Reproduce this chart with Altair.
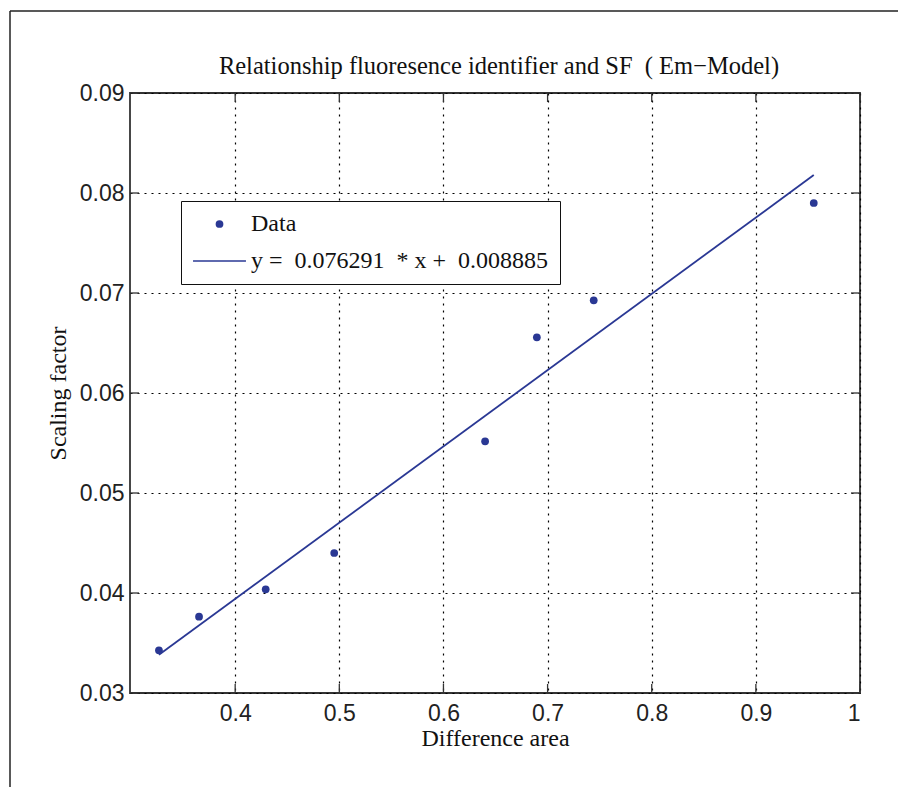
import altair as alt
import pandas as pd

# ---- data ----
diff_area = [0.3268, 0.3653, 0.4293, 0.4951, 0.6400, 0.6897, 0.7443, 0.9556]
scaling = [0.03427, 0.03763, 0.04037, 0.0440, 0.05517, 0.06557, 0.06927, 0.0790]
fit_x = [0.3268, 0.9556]
fit_y = [0.03382, 0.08179]
x_ticks = [0.4, 0.5, 0.6, 0.7, 0.8, 0.9, 1.0]
y_ticks = [0.03, 0.04, 0.05, 0.06, 0.07, 0.08, 0.09]
series_names = ["Data", "y =\u00a0 0.076291\u00a0 * x +\u00a0 0.008885"]

BLUE = "#2a3894"
SERIF = "Liberation Serif"
SANS = "Liberation Sans"
W, H = 730, 600
XDOM = [0.299, 1.0]
YDOM = [0.03, 0.09]

pts = pd.DataFrame({"x": diff_area, "y": scaling, "series": series_names[0]})
fit = pd.DataFrame({"x": fit_x, "y": fit_y})
xt = pd.DataFrame({"x": x_ticks})
yt = pd.DataFrame({"y": y_ticks})
one = pd.DataFrame({"a": [0]})

xscale = alt.Scale(domain=XDOM, nice=False, zero=False)
yscale = alt.Scale(domain=YDOM, nice=False, zero=False)
xaxis = alt.Axis(values=x_ticks, format="~g")
yaxis = alt.Axis(values=y_ticks, format="~g")
XE = alt.X("x:Q", scale=xscale, axis=xaxis, title="Difference area")
YE = alt.Y("y:Q", scale=yscale, axis=yaxis, title="Scaling factor")

legend_kw = dict(
    title=None, orient="none", legendX=51, legendY=108,
    strokeColor="#111", fillColor="white", padding=11,
    labelFont=SERIF, labelFontSize=24, labelColor="#111", labelLimit=500,
    labelOffset=4, clipHeight=24, rowPadding=13,
)

points = alt.Chart(pts).mark_point(filled=True, opacity=1).encode(
    x=XE, y=YE,
    color=alt.Color("series:O", scale=alt.Scale(domain=series_names, range=[BLUE, BLUE]),
                    legend=alt.Legend(**legend_kw)),
    shape=alt.Shape("series:O", scale=alt.Scale(domain=series_names,
                    range=["circle", "M-1,-0.03L1,-0.03L1,0.03L-1,0.03Z"]),
                    legend=alt.Legend(**legend_kw)),
    size=alt.Size("series:O", scale=alt.Scale(domain=series_names, range=[60, 2800]),
                  legend=alt.Legend(**legend_kw)),
)

line = alt.Chart(fit).mark_line(color=BLUE, strokeWidth=1.8).encode(x=XE, y=YE)

TICK = dict(color="#333", strokeWidth=1.3)
tick_b = alt.Chart(xt).mark_rule(**TICK).encode(x=XE, y=alt.value(H), y2=alt.value(H - 9))
tick_t = alt.Chart(xt).mark_rule(**TICK).encode(x=XE, y=alt.value(0), y2=alt.value(9))
tick_l = alt.Chart(yt).mark_rule(**TICK).encode(y=YE, x=alt.value(0), x2=alt.value(9))
tick_r = alt.Chart(yt).mark_rule(**TICK).encode(y=YE, x=alt.value(W), x2=alt.value(W - 9))

frame_v = alt.Chart(one).mark_rule(color="#222", strokeWidth=1.5).encode(
    x=alt.value(-120), y=alt.value(-82), y2=alt.value(694))
frame_h = alt.Chart(one).mark_rule(color="#222", strokeWidth=1.5).encode(
    x=alt.value(-120), x2=alt.value(768), y=alt.value(-82))

chart = alt.layer(
    frame_v, frame_h, tick_b, tick_t, tick_l, tick_r, line, points
).properties(
    width=W, height=H,
    padding={"left": 9, "top": 10, "right": 0, "bottom": 0},
    title=alt.TitleParams(
        "Relationship fluoresence identifier and SF\u00a0 ( Em\u2212Model)",
        font=SERIF, fontSize=24.5, fontWeight="normal", color="#111",
        anchor="middle", frame="group", offset=10, dx=4, dy=79,
    ),
).configure_view(
    stroke="#333", strokeWidth=1.8
).configure_axis(
    domain=False, ticks=False,
    grid=True, gridColor="#000", gridDash=[2, 5], gridWidth=1.2, gridOpacity=1,
    labelFont=SANS, labelFontSize=23, labelColor="#222",
    titleFont=SERIF, titleFontSize=24, titleFontWeight="normal", titleColor="#111",
).configure_axisX(
    labelPadding=9, titlePadding=1,
).configure_axisY(
    labelPadding=6, titlePadding=9,
)

chart.save("out.html", embed_options={"renderer": "svg", "actions": False})
